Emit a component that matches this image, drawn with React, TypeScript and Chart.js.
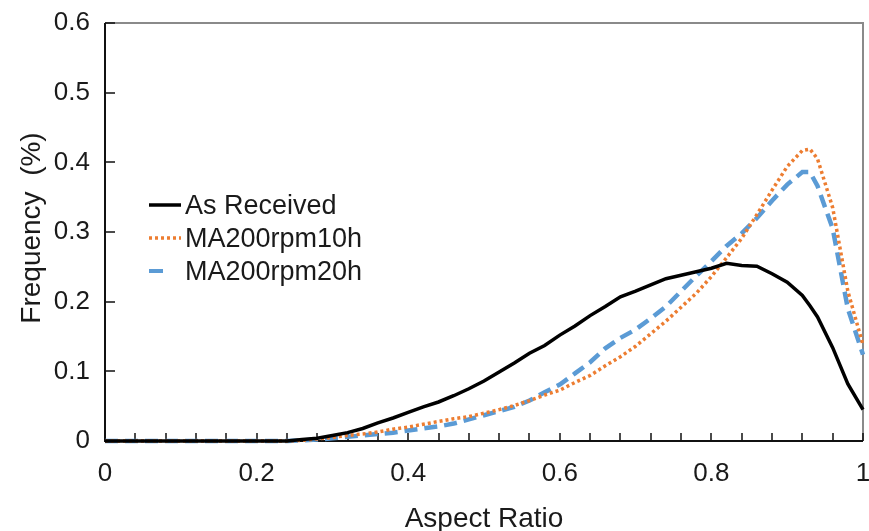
import React, { useEffect, useRef } from 'react';
import { Chart, registerables } from 'chart.js';

Chart.register(...registerables);

const aspectRatio = [
  0, 0.02, 0.04, 0.06, 0.08, 0.1, 0.12, 0.14, 0.16, 0.18, 0.2, 0.22, 0.24,
  0.26, 0.28, 0.3, 0.32, 0.34, 0.36, 0.38, 0.4, 0.42, 0.44, 0.46, 0.48, 0.5,
  0.52, 0.54, 0.56, 0.58, 0.6, 0.62, 0.64, 0.66, 0.68, 0.7, 0.72, 0.74, 0.76,
  0.78, 0.8, 0.82, 0.84, 0.86, 0.88, 0.9, 0.92, 0.93, 0.94, 0.96, 0.98, 1.0,
];

const asReceived = [
  0, 0, 0, 0, 0, 0, 0, 0, 0, 0, 0, 0, 0,
  0.002, 0.004, 0.008, 0.012, 0.018, 0.026, 0.033, 0.041, 0.049, 0.056, 0.065, 0.075, 0.086,
  0.099, 0.112, 0.126, 0.137, 0.152, 0.165, 0.18, 0.193, 0.207, 0.215, 0.224, 0.233, 0.238,
  0.243, 0.248, 0.255, 0.252, 0.251, 0.24, 0.228, 0.209, 0.194, 0.178, 0.134, 0.082, 0.045,
];

const ma200rpm10h = [
  0, 0, 0, 0, 0, 0, 0, 0, 0, 0, 0, 0, 0,
  0.001, 0.003, 0.005, 0.008, 0.01, 0.013, 0.017, 0.02, 0.024, 0.028, 0.032, 0.035, 0.04,
  0.045, 0.051, 0.058, 0.066, 0.073, 0.084, 0.094, 0.108, 0.121, 0.136, 0.154, 0.172, 0.192,
  0.212, 0.236, 0.263, 0.291, 0.325, 0.36, 0.394, 0.417, 0.419, 0.405, 0.335, 0.215, 0.138,
];

const ma200rpm20h = [
  0, 0, 0, 0, 0, 0, 0, 0, 0, 0, 0, 0, 0,
  0.001, 0.002, 0.004, 0.006, 0.008, 0.01, 0.012, 0.015, 0.018, 0.021, 0.025, 0.031, 0.037,
  0.043, 0.049, 0.058, 0.07, 0.081, 0.097, 0.113, 0.133, 0.148, 0.16, 0.176, 0.193, 0.215,
  0.237, 0.258, 0.28, 0.298, 0.32, 0.345, 0.368, 0.386, 0.386, 0.366, 0.305, 0.19, 0.124,
];

const seriesNames = ['As Received', 'MA200rpm10h', 'MA200rpm20h'];
const xTickLabels = ['0', '0.2', '0.4', '0.6', '0.8', '1'];
const yTickLabels = ['0', '0.1', '0.2', '0.3', '0.4', '0.5', '0.6'];
const xTitle = 'Aspect Ratio';
const yTitle = 'Frequency  (%)';

const FONT = '"Liberation Sans", Arial, sans-serif';
const TEXT = '#1a1a1a';
const BLACK = '#000000';
const ORANGE = '#ED7D31';
const BLUE = '#5B9BD5';

const toPoints = (ys: number[]) => aspectRatio.map((x, i) => ({ x, y: ys[i] }));

const framePlugin = {
  id: 'frame',
  beforeDatasetsDraw(chart: any) {
    const { ctx, chartArea, scales } = chart;
    const { left, right, top, bottom } = chartArea;
    ctx.save();
    ctx.strokeStyle = '#8a8a8a';
    ctx.lineWidth = 2;
    ctx.beginPath();
    ctx.moveTo(left, top);
    ctx.lineTo(right, top);
    ctx.lineTo(right, bottom);
    ctx.stroke();
    ctx.strokeStyle = '#111';
    ctx.lineWidth = 2;
    ctx.beginPath();
    ctx.moveTo(left, top);
    ctx.lineTo(left, bottom);
    ctx.lineTo(right, bottom);
    ctx.stroke();
    ctx.lineWidth = 1.5;
    ctx.beginPath();
    for (let i = 0; i < yTickLabels.length; i++) {
      const py = Math.round(scales.y.getPixelForValue(i * 0.1));
      ctx.moveTo(left, py);
      ctx.lineTo(left + 10, py);
    }
    for (let i = 0; i <= 25; i++) {
      const px = Math.round(scales.x.getPixelForValue(i * 0.04));
      ctx.moveTo(px, bottom);
      ctx.lineTo(px, bottom - 8);
    }
    ctx.stroke();
    ctx.restore();
  },
  afterDraw(chart: any) {
    const { ctx, chartArea } = chart;
    const { left, right } = chartArea;
    ctx.save();
    ctx.fillStyle = TEXT;
    ctx.font = `28px ${FONT}`;
    ctx.textAlign = 'center';
    ctx.textBaseline = 'alphabetic';
    ctx.fillText(xTitle, (left + right) / 2, 527);
    ctx.save();
    ctx.translate(40, 228);
    ctx.rotate(-Math.PI / 2);
    ctx.fillText(yTitle, 0, 0);
    ctx.restore();

    const items = [
      { color: BLACK, dash: [] as number[], width: 3.5 },
      { color: ORANGE, dash: [3, 3], width: 3.5 },
      { color: BLUE, dash: [14, 30], width: 4 },
    ];
    ctx.font = `27px ${FONT}`;
    ctx.textAlign = 'left';
    items.forEach((it, i) => {
      const yLine = 205 + i * 33;
      ctx.strokeStyle = it.color;
      ctx.lineWidth = it.width;
      ctx.setLineDash(it.dash);
      ctx.beginPath();
      ctx.moveTo(149, yLine);
      ctx.lineTo(181, yLine);
      ctx.stroke();
      ctx.setLineDash([]);
      ctx.fillStyle = TEXT;
      ctx.fillText(seriesNames[i], 185, yLine + 9);
    });
    ctx.restore();
  },
};

const zeroPad = (s: any) => {
  s.paddingLeft = 0;
  s.paddingRight = 0;
  s.paddingTop = 0;
  s.paddingBottom = 0;
};

export default function App() {
  const ref = useRef<HTMLCanvasElement | null>(null);
  useEffect(() => {
    if (!ref.current) return;
    const chart = new Chart(ref.current, {
      type: 'scatter',
      data: {
        datasets: [
          {
            label: seriesNames[0],
            data: toPoints(asReceived),
            showLine: true,
            borderColor: BLACK,
            backgroundColor: BLACK,
            borderWidth: 3.5,
            pointRadius: 0,
            tension: 0,
          },
          {
            label: seriesNames[1],
            data: toPoints(ma200rpm10h),
            showLine: true,
            borderColor: ORANGE,
            backgroundColor: ORANGE,
            borderWidth: 3.5,
            borderDash: [3, 3],
            pointRadius: 0,
            tension: 0,
          },
          {
            label: seriesNames[2],
            data: toPoints(ma200rpm20h),
            showLine: true,
            borderColor: BLUE,
            backgroundColor: BLUE,
            borderWidth: 4.5,
            borderDash: [13, 7],
            pointRadius: 0,
            tension: 0,
          },
        ],
      },
      options: {
        animation: false,
        responsive: true,
        maintainAspectRatio: false,
        clip: false,
        layout: { padding: { top: 23, right: 6, left: 0, bottom: 0 } },
        plugins: { legend: { display: false }, tooltip: { enabled: false } },
        scales: {
          x: {
            type: 'linear',
            min: 0,
            max: 1,
            border: { display: false },
            grid: { display: false, drawTicks: false },
            ticks: {
              stepSize: 0.2,
              padding: 17,
              color: TEXT,
              font: { family: FONT, size: 26 },
              maxRotation: 0,
              callback: (_v: any, i: number) => xTickLabels[i],
            },
            afterFit: (s: any) => { s.height = 90; zeroPad(s); },
          },
          y: {
            type: 'linear',
            min: 0,
            max: 0.6,
            border: { display: false },
            grid: { display: false, drawTicks: false },
            ticks: {
              stepSize: 0.1,
              padding: 15,
              color: TEXT,
              font: { family: FONT, size: 26 },
              callback: (_v: any, i: number) => yTickLabels[i],
            },
            afterFit: (s: any) => { s.width = 105; zeroPad(s); },
          },
        },
      } as any,
      plugins: [framePlugin],
    });
    return () => chart.destroy();
  }, []);
  return (
    <div style={{ position: 'fixed', left: 0, top: 0, width: 869, height: 531, background: '#fff' }}>
      <canvas ref={ref} />
    </div>
  );
}
